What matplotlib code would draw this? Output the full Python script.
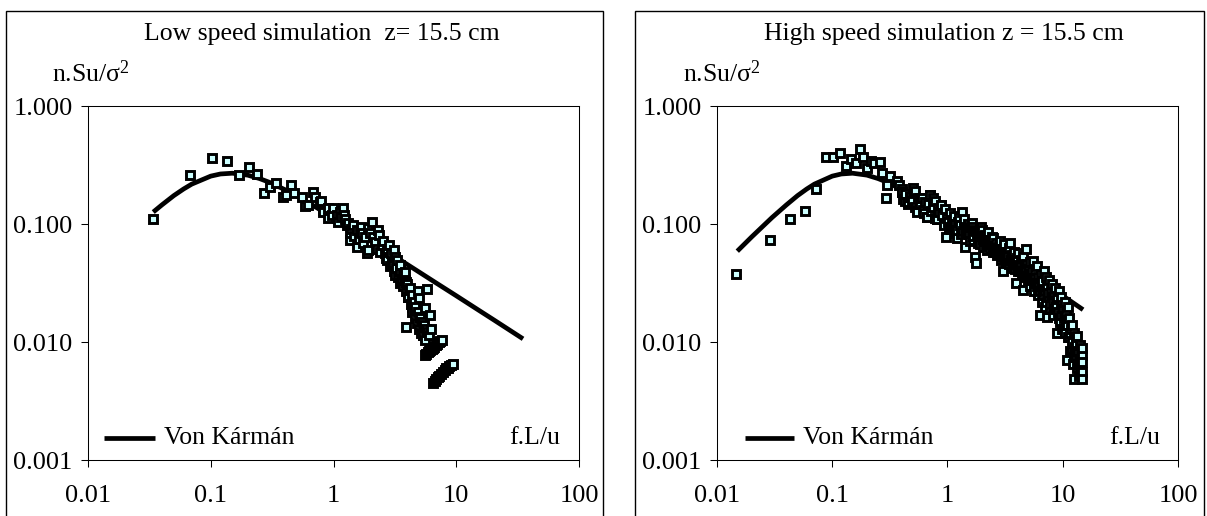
import numpy as np
import matplotlib
matplotlib.use('Agg')
import matplotlib.pyplot as plt
from matplotlib.patches import Rectangle
from matplotlib.lines import Line2D
from matplotlib.ticker import FixedLocator, FixedFormatter, NullLocator

plt.rcParams['font.family'] = ['Liberation Serif', 'DejaVu Serif']

# ---------------- data ----------------
titles = ["Low speed simulation  z= 15.5 cm", "High speed simulation z = 15.5 cm"]
ylabel_text = r"n.Su/$\mathregular{\sigma^2}$"
xlabel_text = "f.L/u"
legend_text = "Von Kármán"
xtick_vals = [0.01, 0.1, 1, 10, 100]
xtick_labels = ["0.01", "0.1", "1", "10", "100"]
ytick_vals = [0.001, 0.01, 0.1, 1.0]
ytick_labels = ["0.001", "0.010", "0.100", "1.000"]

# Von Karman curves
vk_low_x = [0.034, 0.04, 0.05, 0.06, 0.07, 0.1, 0.12, 0.15, 0.2, 0.25, 0.3, 0.4, 0.5, 0.7,
            1, 1.5, 2, 3, 5, 7, 10, 15, 20, 35]
vk_low_y = [0.127, 0.146, 0.175, 0.199, 0.219, 0.256, 0.267, 0.271, 0.261, 0.244, 0.227, 0.197,
            0.174, 0.142, 0.1135, 0.0872, 0.0722, 0.0552, 0.0393, 0.0314, 0.0248, 0.0189,
            0.0156, 0.0107]
vk_high_x = [0.015, 0.02, 0.03, 0.04, 0.05, 0.06, 0.07, 0.1, 0.12, 0.15, 0.2, 0.25, 0.3, 0.4,
             0.5, 0.7, 1, 1.5, 2, 3, 5, 7, 10, 15]
vk_high_y = [0.0592, 0.0782, 0.114, 0.146, 0.175, 0.199, 0.219, 0.256, 0.267, 0.271, 0.261,
             0.244, 0.227, 0.197, 0.174, 0.142, 0.1135, 0.0872, 0.0722, 0.0552, 0.0393,
             0.0314, 0.0248, 0.0189]

# Low speed measured spectrum
low_x = [0.034, 0.0678, 0.102, 0.136, 0.171, 0.206, 0.239, 0.272, 0.304, 0.340, 0.385, 0.410,
         0.448, 0.476, 0.551, 0.586, 0.617, 0.677, 0.706, 0.776, 0.787, 0.826, 0.826, 0.908,
         0.908, 0.966, 0.995, 1.06, 1.06, 1.09, 1.12, 1.15, 1.19, 1.22, 1.25, 1.28, 1.32, 1.36,
         1.36, 1.40, 1.45, 1.48, 1.55, 1.55, 1.60, 1.64, 1.68, 1.70, 1.75, 1.81, 1.86, 1.92,
         1.92, 1.98, 2.05, 2.10, 2.18, 2.25, 2.30, 2.36, 2.40, 2.47, 2.55, 2.63, 2.70, 2.75,
         2.85, 2.92, 2.98, 3.05, 3.10, 3.17, 3.17, 3.30, 3.48, 3.48,
         2.75, 2.90, 3.00, 3.10, 3.25, 3.35, 3.45, 3.55, 3.65, 3.70, 3.80, 3.90, 4.00, 4.05,
         4.15, 4.25, 4.35, 4.40, 4.50, 4.60, 4.65, 4.75, 4.85, 4.95, 5.05, 5.15, 5.25, 5.35,
         5.45, 5.55, 5.65, 5.80, 5.95,
         3.82, 3.90, 4.20, 4.91, 5.74, 4.07, 5.00, 4.34, 5.56, 4.61, 6.11, 5.07, 3.90, 6.19,
         5.39,
         5.56, 5.70, 5.85, 6.00, 6.15, 6.30, 6.45, 6.60, 6.80, 7.00, 7.20, 7.40, 7.61,
         6.50, 6.70, 6.90, 7.10, 7.30, 7.55, 7.80, 8.05, 8.30, 8.55, 8.80, 9.10, 9.35]
low_y = [0.110, 0.262, 0.362, 0.344, 0.263, 0.308, 0.267, 0.183, 0.208, 0.223, 0.169, 0.177,
         0.215, 0.185, 0.169, 0.144, 0.146, 0.187, 0.169, 0.155, 0.158, 0.132, 0.128, 0.137,
         0.112, 0.120, 0.137, 0.112, 0.120, 0.105, 0.128, 0.115, 0.138, 0.120, 0.110, 0.0986,
         0.102, 0.0736, 0.0839, 0.092, 0.0986, 0.080, 0.0646, 0.0895, 0.075, 0.0866, 0.095,
         0.0839, 0.070, 0.0785, 0.0568, 0.0606, 0.0925, 0.085, 0.105, 0.078, 0.0712, 0.062,
         0.090, 0.0811, 0.058, 0.0668, 0.072, 0.0568, 0.052, 0.062, 0.0668, 0.057, 0.0467,
         0.045, 0.060, 0.0525, 0.0372, 0.050, 0.0452, 0.0316,
         0.050, 0.044, 0.048, 0.040, 0.043, 0.036, 0.040, 0.033, 0.037, 0.030, 0.034, 0.027,
         0.031, 0.024, 0.028, 0.021, 0.025, 0.018, 0.022, 0.016, 0.020, 0.0145, 0.018, 0.013,
         0.0165, 0.012, 0.015, 0.0115, 0.014, 0.0105, 0.013, 0.0122, 0.0115,
         0.0397, 0.0326, 0.0287, 0.0274, 0.0281, 0.0243, 0.0239, 0.0200, 0.0194, 0.0188,
         0.0170, 0.0160, 0.0136, 0.0129, 0.0115,
         0.0078, 0.0080, 0.0082, 0.0084, 0.0086, 0.0088, 0.0090, 0.0092, 0.0095, 0.0097,
         0.0100, 0.0102, 0.0105,
         0.00455, 0.0047, 0.0049, 0.0051, 0.0052, 0.0054, 0.0056, 0.0058, 0.0060, 0.0061,
         0.0063, 0.0064, 0.00651]

# High speed measured spectrum
high_x = [0.0145, 0.0288, 0.043, 0.058, 0.0718, 0.0877, 0.101, 0.117, 0.131, 0.145, 0.160,
          0.174, 0.186, 0.199, 0.216, 0.230, 0.259, 0.272, 0.291, 0.297, 0.317, 0.362, 0.380,
          0.401, 0.406, 0.428, 0.457, 0.473, 0.505, 0.523, 0.541, 0.577, 0.597, 0.616, 0.660,
          0.705, 0.753, 0.753, 0.783, 0.806, 0.829, 0.873,
          0.40, 0.41, 0.43, 0.45, 0.47, 0.49, 0.51, 0.52, 0.54, 0.56, 0.58, 0.60, 0.62, 0.64,
          0.66, 0.68, 0.70, 0.72, 0.75, 0.78, 0.81, 0.84, 0.87, 0.90, 0.93, 0.96, 0.98, 1.00,
          1.02, 1.05, 1.08, 1.12, 1.15, 1.18, 1.20, 1.24, 1.28, 1.33, 1.36, 1.40, 1.42, 1.46,
          1.50, 1.54, 1.58, 1.62, 1.62, 1.66, 1.70, 1.73, 1.77, 1.80, 1.85, 1.90, 1.95, 1.98,
          2.02, 2.08, 2.12, 2.18, 2.22, 2.26, 2.30, 2.36, 2.42, 2.46, 2.50, 2.55, 2.62, 2.70,
          2.78, 2.86, 2.92, 3.01, 3.05, 3.12, 3.20, 3.28, 3.36, 3.42, 3.49, 3.56, 3.65, 3.72,
          3.80, 3.88, 3.93, 4.00, 4.05, 4.11, 4.20, 4.30, 4.40, 4.48, 4.55, 4.62, 4.70, 4.80,
          4.88, 4.95, 5.05, 5.15, 5.25, 5.35, 5.48, 5.55, 5.65, 5.75, 5.85, 5.95, 6.05, 6.15,
          6.25, 6.35, 6.45, 6.55, 6.65, 6.75, 6.85, 6.95, 7.11, 7.26, 7.35, 7.45, 7.60, 7.70,
          7.85, 8.00, 8.15, 8.30, 8.45, 8.57, 8.70, 8.86, 9.00, 9.15, 9.30, 9.45, 9.60, 9.75,
          9.90, 10.1, 10.25, 10.4, 10.55, 10.7, 10.8, 10.95, 11.1, 11.25, 11.4, 11.55, 11.7,
          11.96, 12.1, 12.25, 12.4, 12.5, 12.65, 12.8, 12.95, 13.1, 13.25, 13.4, 13.55, 13.7,
          13.85, 14.0, 14.15, 14.3, 14.45, 14.6, 14.6, 14.6, 14.7, 14.8,
          1.03, 1.10, 1.16, 1.22, 1.26, 1.31, 1.38, 1.44, 1.52, 1.56, 1.64, 1.68, 1.75, 1.83,
          1.88, 1.93, 2.00, 2.05, 2.15, 2.20, 2.28, 2.33, 2.40, 2.48, 2.58, 2.66, 2.74, 2.82,
          2.90, 2.97, 3.08, 3.16, 3.24, 3.32, 3.45, 3.53, 3.62, 3.76, 3.84, 3.97, 4.08, 4.25,
          4.35, 4.52, 4.66, 4.75, 4.92, 5.10, 5.30, 5.42, 5.60, 5.80, 6.00, 6.20, 6.40, 6.60,
          6.80, 7.00, 7.20, 7.50, 7.80, 8.10, 8.40, 8.80, 9.20, 9.70, 10.2, 10.6, 11.0, 11.5,
          12.0, 12.6, 13.0, 13.6, 14.2]
high_y = [0.0377, 0.0736, 0.110, 0.130, 0.198, 0.374, 0.370, 0.404, 0.312, 0.356, 0.329,
          0.435, 0.374, 0.302, 0.346, 0.329, 0.335, 0.271, 0.166, 0.215, 0.257, 0.234, 0.215,
          0.189, 0.189, 0.158, 0.155, 0.171, 0.202, 0.193, 0.128, 0.166, 0.166, 0.132, 0.116,
          0.177, 0.166, 0.139, 0.112, 0.110, 0.137, 0.146,
          0.200, 0.165, 0.180, 0.150, 0.172, 0.160, 0.185, 0.140, 0.132, 0.168, 0.150, 0.166,
          0.125, 0.155, 0.116, 0.148, 0.177, 0.130, 0.139, 0.158, 0.110, 0.128, 0.146, 0.120,
          0.098, 0.134, 0.0785, 0.112, 0.105, 0.125, 0.092, 0.0944, 0.118, 0.085, 0.0761,
          0.105, 0.098, 0.128, 0.088, 0.110, 0.0646, 0.092, 0.100, 0.082, 0.095, 0.103, 0.085,
          0.074, 0.090, 0.0531, 0.0473, 0.082, 0.070, 0.078, 0.095, 0.0895, 0.064, 0.072,
          0.081, 0.060, 0.070, 0.0866, 0.066, 0.074, 0.0785, 0.058, 0.0761, 0.062, 0.070,
          0.055, 0.065, 0.072, 0.050, 0.0402, 0.060, 0.068, 0.052, 0.058, 0.047, 0.063, 0.069,
          0.050, 0.055, 0.043, 0.058, 0.048, 0.0316, 0.052, 0.040, 0.0568, 0.045, 0.050, 0.038,
          0.054, 0.0277, 0.044, 0.036, 0.0614, 0.046, 0.033, 0.042, 0.048, 0.030, 0.038,
          0.0492, 0.035, 0.027, 0.040, 0.032, 0.044, 0.025, 0.036, 0.030, 0.0170, 0.038, 0.022,
          0.033, 0.028, 0.040, 0.020, 0.0360, 0.0165, 0.030, 0.024, 0.034, 0.019, 0.027, 0.031,
          0.022, 0.017, 0.026, 0.0287, 0.021, 0.0119, 0.024, 0.018, 0.027, 0.015, 0.021, 0.024,
          0.013, 0.0194, 0.016, 0.022, 0.012, 0.018, 0.0071, 0.014, 0.020, 0.011, 0.016,
          0.0085, 0.013, 0.0140, 0.010, 0.0065, 0.012, 0.00489, 0.0090, 0.0092, 0.011, 0.0075,
          0.0060, 0.0113, 0.0085, 0.0052, 0.0070, 0.0095, 0.0062, 0.0080, 0.0055, 0.0078,
          0.0056, 0.00489, 0.0068, 0.0090,
          0.095, 0.108, 0.100, 0.090, 0.115, 0.082, 0.100, 0.085, 0.090, 0.072, 0.094, 0.080,
          0.088, 0.076, 0.086, 0.068, 0.080, 0.075, 0.066, 0.078, 0.072, 0.062, 0.068, 0.066,
          0.058, 0.063, 0.060, 0.056, 0.062, 0.054, 0.052, 0.058, 0.049, 0.054, 0.046, 0.052,
          0.047, 0.050, 0.042, 0.046, 0.043, 0.040, 0.044, 0.040, 0.038, 0.042, 0.037, 0.036,
          0.034, 0.040, 0.032, 0.035, 0.030, 0.032, 0.027, 0.030, 0.025, 0.027, 0.022, 0.026,
          0.021, 0.024, 0.019, 0.020, 0.016, 0.017, 0.013, 0.015, 0.011, 0.012, 0.0085, 0.0075,
          0.0095, 0.0065, 0.0072]

panels = [
    dict(title=titles[0], x=low_x, y=low_y, vx=vk_low_x, vy=vk_low_y),
    dict(title=titles[1], x=high_x, y=high_y, vx=vk_high_x, vy=vk_high_y),
]

# ---------------- layout (pixel based) ----------------
W, H = 1207, 516
fig = plt.figure(figsize=(W / 100, H / 100), dpi=100)

def fx(px):
    return px / W

def fy(py):
    return 1 - py / H

frames = [(6, 603), (635, 1204)]
axes_px = [(88, 579), (717, 1178)]
ax_top, ax_bot = 106.3, 460.3
title_cx = [322, 944]
ylab_x = [52, 683]
FS = 18.5
FS_TICK = 19

for i, p in enumerate(panels):
    fl, fr = frames[i]
    fig.add_artist(Rectangle((fx(fl), -0.05), fx(fr - fl), fy(11) + 0.05,
                             transform=fig.transFigure, fill=False,
                             edgecolor='black', linewidth=1.0))
    al, ar = axes_px[i]
    ax = fig.add_axes([fx(al), fy(ax_bot), fx(ar - al), (ax_bot - ax_top) / H])
    ax.set_xscale('log')
    ax.set_yscale('log')
    ax.set_xlim(0.01, 100)
    ax.set_ylim(0.001, 1.0)

    ax.plot(p['vx'], p['vy'], color='black', linewidth=3.4, solid_capstyle='butt', zorder=2)
    order = np.argsort(np.asarray(p['x']), kind='stable')
    xs = np.asarray(p['x'])[order]
    ys = np.asarray(p['y'])[order]
    ax.plot(xs, ys, linestyle='none', marker='s', markersize=5.8,
            markerfacecolor='#CCFFFF', markeredgecolor='black',
            markeredgewidth=2.1, zorder=3)

    ax.xaxis.set_major_locator(FixedLocator(xtick_vals))
    ax.xaxis.set_major_formatter(FixedFormatter(xtick_labels))
    ax.yaxis.set_major_locator(FixedLocator(ytick_vals))
    ax.yaxis.set_major_formatter(FixedFormatter(ytick_labels))
    ax.xaxis.set_minor_locator(NullLocator())
    ax.yaxis.set_minor_locator(NullLocator())
    ax.tick_params(axis='both', which='major', direction='out', length=5, width=0.75,
                   labelsize=FS_TICK, colors='black')
    ax.tick_params(axis='y', pad=6)
    ax.tick_params(axis='x', pad=13)
    for s in ax.spines.values():
        s.set_linewidth(0.75)
        s.set_color('black')

    # legend (no frame)
    lx0 = (16 if i == 0 else 28) / (ar - al)
    lx1 = lx0 + (51 if i == 0 else 49) / (ar - al)
    ly = (ax_bot - 438) / (ax_bot - ax_top)
    ax.add_line(Line2D([lx0, lx1], [ly, ly], transform=ax.transAxes, color='black',
                       linewidth=3.4, solid_capstyle='butt'))
    ax.text(lx1 + 9 / (ar - al), ly, legend_text, transform=ax.transAxes,
            ha='left', va='center', fontsize=FS)
    ax.text(0.962, ly, xlabel_text, transform=ax.transAxes, ha='right', va='center',
            fontsize=FS)

    fig.text(fx(title_cx[i]), fy(34), p['title'], ha='center', va='center', fontsize=FS)
    fig.text(fx(ylab_x[i]), fy(74), ylabel_text, ha='left', va='center', fontsize=FS)

fig.savefig('out.png', dpi=100)
